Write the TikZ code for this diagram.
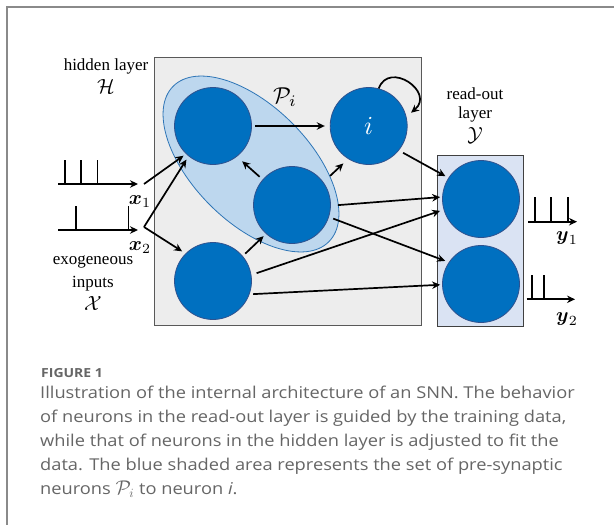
\documentclass[tikz,border=0pt]{standalone}
\usepackage{amsmath}
\usepackage{graphicx}
\usepackage{fontspec}
\setmainfont{Liberation Serif}
\newfontfamily\capfont{Open Sans}[FakeStretch=1.12]
\usetikzlibrary{arrows.meta}
\definecolor{neuronblue}{HTML}{0070C0}
\definecolor{neuronedge}{HTML}{2F528F}
\definecolor{pifill}{HTML}{BDD7EE}
\definecolor{piedge}{HTML}{2E75B6}
\definecolor{hidfill}{HTML}{EDEDED}
\definecolor{hidedge}{HTML}{595959}
\definecolor{rofill}{HTML}{DAE3F3}
\definecolor{rodedge}{HTML}{404040}
\definecolor{capgray}{HTML}{666666}
\definecolor{framegray}{HTML}{8A8A8A}
\newcommand{\scaledmath}[2]{\scalebox{#1}{$#2$}}
\begin{document}
\begin{tikzpicture}[x=1pt,y=-1pt,
  neuron/.style={circle,fill=neuronblue,draw=neuronedge,line width=0.8pt,minimum size=77pt,inner sep=0pt},
  syn/.style={-{Stealth[length=8pt,width=7.5pt]},line width=1.7pt},
  train/.style={line width=1.6pt},
  trainarrow/.style={-{Stealth[length=8pt,width=7.5pt]},line width=1.7pt},
  lbl/.style={font=\fontsize{17}{19}\selectfont,inner sep=0pt},
  mlbl/.style={inner sep=0pt},
  capline/.style={anchor=base west,inner sep=0pt,text=capgray,font=\capfont\fontsize{16.3}{20}\selectfont}]
\useasboundingbox (0,0) rectangle (614,525);
\fill[white] (0,0) rectangle (614,525);
\draw[framegray,line width=1.2pt] (7,525) -- (7,7) -- (614,7);
% layer boxes
\draw[fill=hidfill,draw=hidedge,line width=1pt] (154,57) rectangle (421.5,325);
\draw[fill=rofill,draw=rodedge,line width=1pt] (437,155) rectangle (523,326);
% pre-synaptic set
\draw[fill=pifill,draw=piedge,line width=0.8pt,rotate around={-45:(251,164)}] (251,164) ellipse [x radius=110pt, y radius=58pt];
\node[mlbl] (Pi) at (285,97) {\scaledmath{2.3}{\mathcal{P}_i}};
% neurons
\node[neuron] (A) at (213,126) {};
\node[neuron] (i) at (368.7,126) {};
\node[mlbl,text=white] (ilbl) at (i.center) {\scaledmath{2.6}{i}};
\node[neuron] (B) at (292,205) {};
\node[neuron] (C) at (213,281) {};
\node[neuron] (R1) at (481,199) {};
\node[neuron] (R2) at (481,284) {};
% input trains
\coordinate (x1s) at (144,184);
\coordinate (x2s) at (144,227);
\coordinate (t1a) at (58,184); \coordinate (t1b) at (138,184);
\coordinate (t2a) at (58,230); \coordinate (t2b) at (138,230);
\draw[trainarrow] (t1a) -- (t1b);
\draw[train] (65,184) -- (65,160) (80.7,184) -- (80.7,160) (97.3,184) -- (97.3,160);
\draw[trainarrow] (t2a) -- (t2b);
\draw[train] (76,230) -- (76,206) (128.3,230) -- (128.3,206);
% output trains
\coordinate (u1a) at (528,221.7); \coordinate (u1b) at (577,221.7);
\coordinate (u2a) at (526.7,299.3); \coordinate (u2b) at (575,299.3);
\draw[trainarrow] (u1a) -- (u1b);
\draw[train] (535,221.7) -- (535,196.7) (550.7,221.7) -- (550.7,196.7) (567.7,221.7) -- (567.7,196.7);
\draw[trainarrow] (u2a) -- (u2b);
\draw[train] (531.7,299.3) -- (531.7,275) (544,299.3) -- (544,275);
% synapses
\draw[syn,shorten >=3pt] (x1s) -- (A.226);
\draw[syn,shorten >=4pt] (x2s) -- (A.231);
\draw[syn,shorten >=4pt] (x2s) -- (C.135);
\draw[syn,shorten <=3.5pt,shorten >=5pt] (A.0) -- (i.180);
\draw[syn,shorten <=4pt,shorten >=7pt] (B.139) -- (A.308);
\draw[syn,shorten <=9pt,shorten >=6.5pt] (B.36) -- (i.238);
\draw[syn,shorten <=3.4pt,shorten >=3.3pt] (C.40) -- (B.228);
\draw[syn,shorten <=4.8pt,shorten >=3.4pt] (i.321) -- (R1.147);
\draw[syn,shorten <=7pt,shorten >=2pt] (B.359) -- (R1.177);
\draw[syn,shorten <=4.5pt,shorten >=3.8pt] (B.342) -- (R2.146);
\draw[syn,shorten <=5.5pt,shorten >=3.7pt] (C.9) -- (R1.196);
\draw[syn,shorten <=3.6pt,shorten >=2pt] (C.340) -- (R2.181);
\draw[syn,shorten >=6pt] (i.75) .. controls +(70:30pt) and +(40:38pt) .. (i.14);
% labels
\node[lbl] (hl) at (106,66) {hidden layer};
\node[mlbl] (H) at (106,86) {\scaledmath{2.05}{\mathcal{H}}};
\node[lbl] (ex) at (93,262) {exogeneous};
\node[lbl] (inp) at (93,284) {inputs};
\node[mlbl] (X) at (93,303) {\scaledmath{2.05}{\mathcal{X}}};
\node[lbl] (ro) at (475,94) {read-out};
\node[lbl] (lay) at (475,114) {layer};
\node[mlbl] (Y) at (475,135) {\scaledmath{2.05}{\mathcal{Y}}};
\node[mlbl] (x1) at (140,202) {\scaledmath{2}{\boldsymbol{x}_1}};
\node[mlbl] (x2) at (140,248) {\scaledmath{2}{\boldsymbol{x}_2}};
\node[mlbl] (y1) at (567,238) {\scaledmath{2}{\boldsymbol{y}_1}};
\node[mlbl] (y2) at (567,319) {\scaledmath{2}{\boldsymbol{y}_2}};
% caption
\node[anchor=base west,inner sep=0pt,text=capgray,font=\capfont\bfseries\fontsize{12.5}{15}\selectfont] (fig) at (41,377) {FIGURE 1};
\node[capline] (c1) at (40,398.5) {Illustration of the internal architecture of an SNN. The behavior};
\node[capline] (c2) at (40,422.5) {of neurons in the read-out layer is guided by the training data,};
\node[capline] (c3) at (40,446.5) {while that of neurons in the hidden layer is adjusted to fit the};
\node[capline] (c4) at (40,470.5) {data. The blue shaded area represents the set of pre-synaptic};
\node[capline] (c5) at (40,494.5) {neurons \scaledmath{1.15}{\mathcal{P}_i} to neuron {\itshape i}.};
\end{tikzpicture}
\end{document}
